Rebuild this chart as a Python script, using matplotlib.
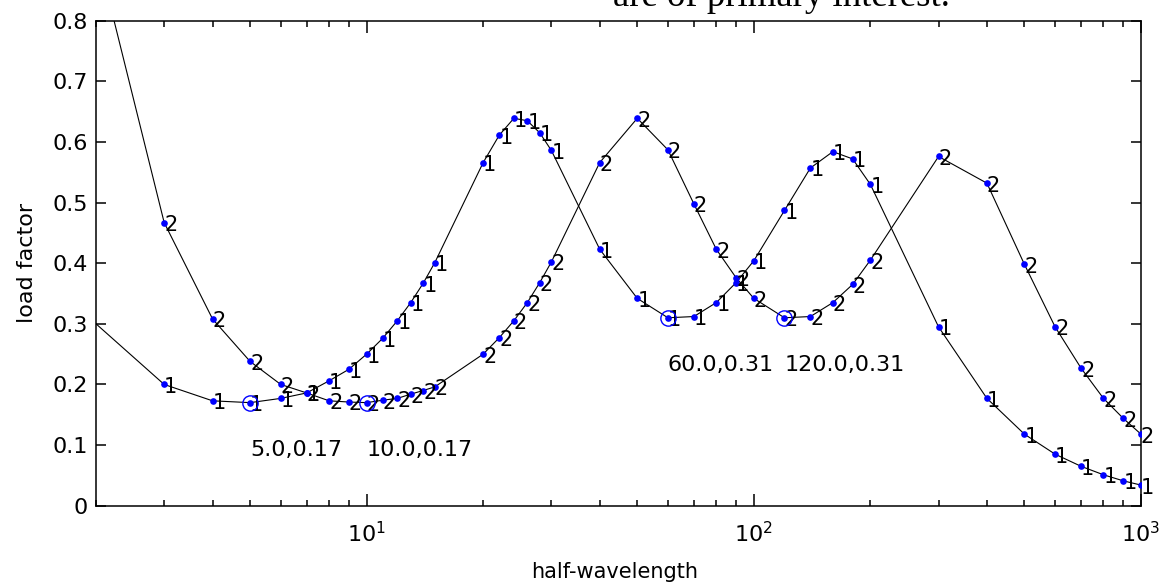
import matplotlib
matplotlib.use("Agg")
import matplotlib.pyplot as plt
from matplotlib.ticker import LogLocator, FixedLocator, FuncFormatter, NullFormatter

plt.rcParams['font.family'] = ['DejaVu Sans']

# sampled half-wavelengths
half_wavelength = [2, 3, 4, 5, 6, 7, 8, 9, 10, 11, 12, 13, 14, 15,
                   20, 22, 24, 26, 28, 30, 40, 50, 60, 70, 80, 90, 100,
                   120, 140, 160, 180, 200, 300, 400, 500, 600, 700, 800, 900, 1000]

# load factor for case 1 and case 2
load_1 = [0.30, 0.200, 0.173, 0.17, 0.177, 0.186, 0.206, 0.225, 0.250, 0.276,
          0.305, 0.335, 0.367, 0.401, 0.566, 0.611, 0.639, 0.635, 0.615, 0.586,
          0.423, 0.342, 0.31, 0.312, 0.335, 0.368, 0.404, 0.487, 0.557, 0.584,
          0.572, 0.530, 0.295, 0.177, 0.118, 0.085, 0.065, 0.051, 0.041, 0.034]
load_2 = [0.92, 0.467, 0.308, 0.238, 0.200, 0.186, 0.173, 0.171, 0.17, 0.174,
          0.177, 0.184, 0.190, 0.196, 0.250, 0.277, 0.305, 0.335, 0.368, 0.402,
          0.566, 0.639, 0.587, 0.498, 0.423, 0.376, 0.342, 0.31, 0.312, 0.335,
          0.365, 0.405, 0.576, 0.532, 0.398, 0.295, 0.227, 0.177, 0.144, 0.118]

# local minima picked out on the curves
min_x = [5.0, 10.0, 60.0, 120.0]
min_y = [0.17, 0.17, 0.31, 0.31]

y_ticks = [0, 0.1, 0.2, 0.3, 0.4, 0.5, 0.6, 0.7, 0.8]

fig = plt.figure(figsize=(11.66, 5.85), dpi=100)
ax = fig.add_axes([96 / 1166, 1 - 505.7 / 585, 1045 / 1166, 485 / 585])

for ys, tag in [(load_1, '1'), (load_2, '2')]:
    ax.plot(half_wavelength, ys, color='black', lw=0.8, zorder=2)
    ax.plot(half_wavelength[1:], ys[1:], 'o', color='blue', ms=4.8, mew=0, zorder=3)
    for xv, yv in zip(half_wavelength[1:], ys[1:]):
        if yv <= 0.8:
            ax.text(xv, yv - 0.004, tag, fontsize=15, ha='left', va='center', zorder=4)

ax.plot(min_x, min_y, 'o', mfc='none', mec='blue', ms=11, mew=1.0, zorder=5)
for xv, yv in zip(min_x, min_y):
    ax.text(xv, yv - 0.078, f"{xv:.1f},{yv:.2f}", fontsize=16, ha='left', va='center')

ax.set_xscale('log')
ax.set_xlim(2, 1000)
ax.set_ylim(0, 0.8)

ax.xaxis.set_major_locator(LogLocator(base=10))
ax.xaxis.set_minor_locator(LogLocator(base=10, subs=range(2, 10)))
ax.xaxis.set_minor_formatter(NullFormatter())
ax.yaxis.set_major_locator(FixedLocator(y_ticks))
ax.yaxis.set_major_formatter(FuncFormatter(lambda v, p: '0' if v == 0 else f'{v:.1f}'))

ax.tick_params(which='both', direction='in', top=True, right=True, width=1.1)
ax.tick_params(axis='y', which='major', length=7.5, pad=6, labelsize=16)
ax.tick_params(axis='x', which='major', length=8.5, pad=11, labelsize=16)
ax.tick_params(axis='x', which='minor', length=4.3)
for s in ax.spines.values():
    s.set_linewidth(1.1)

ax.set_xlabel('half-wavelength', fontsize=15)
ax.set_ylabel('load factor', fontsize=16)
ax.xaxis.set_label_coords(0.496, -0.116)
ax.yaxis.set_label_coords(-0.056, 0.5)

# caption line from the surrounding page, cut off at the top
fig.text(613 / 1166, 1 - 6 / 585, 'are of primary interest.', fontsize=26.5,
         family='Liberation Serif', ha='left', va='baseline')

fig.savefig('out.png', dpi=100)
